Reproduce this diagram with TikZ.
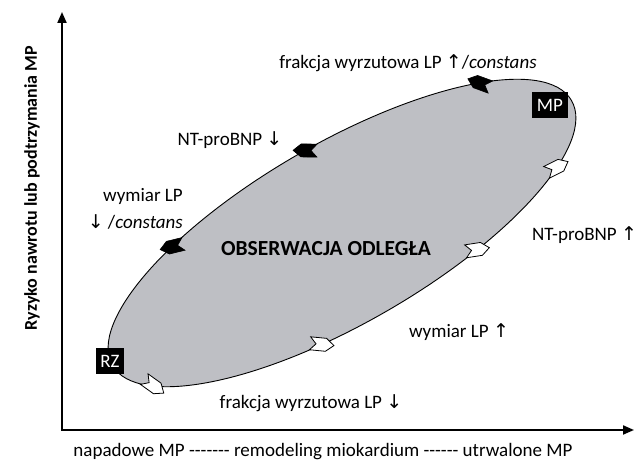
\documentclass[tikz,border=0pt]{standalone}
\usepackage{fontspec}
\setmainfont{Carlito}
\newfontfamily\arrowfont{DejaVu Sans}
\usetikzlibrary{arrows.meta}
\definecolor{ellgray}{RGB}{190,191,196}
\newcommand{\upar}{{\arrowfont\char"2191}}
\newcommand{\dnar}{{\arrowfont\char"2193}}
\begin{document}
\begin{tikzpicture}[x=1pt,y=1pt,
  lbl/.style={inner sep=0pt, font=\fontsize{19}{22}\selectfont},
  tagbox/.style={fill=black, text=white, inner sep=0pt, minimum height=26pt, font=\fontsize{19}{22}\selectfont},
  axisline/.style={line width=2pt},
  flowarrow/.pic={\path[pic actions] (12,0) -- (4,6.5) -- (-12,6.5) -- (-6,0) -- (-12,-6.5) -- (4,-6.5) -- cycle;}
]
\useasboundingbox (0,0) rectangle (638,468);
% axes
\coordinate (O) at (62,38);
\coordinate (ytip) at (62,456);
\coordinate (xtip) at (634,38);
\draw[axisline, {Triangle[length=11pt,width=9pt]}-{Triangle[length=11pt,width=9pt]}] (ytip) -- (O) -- (xtip);
% ellipse and flow arrows
\begin{scope}[shift={(342,235)}, rotate=30]
  \draw[fill=ellgray, line width=0.9pt] (0,0) ellipse [x radius=265pt, y radius=90pt];
  \foreach \t in {43,88,125.6}{
    \pgfmathsetmacro{\ang}{atan2(90*cos(\t), -265*sin(\t))}
    \pic[rotate=\ang, fill=black, draw=black, line width=0.6pt] at ({265*cos(\t)},{90*sin(\t)}) {flowarrow};
  }
  \foreach \t in {205.4,254,294.3,325.9}{
    \pgfmathsetmacro{\ang}{atan2(90*cos(\t), -265*sin(\t))}
    \pic[rotate=\ang, fill=white, draw=black, line width=0.8pt] at ({265*cos(\t)},{90*sin(\t)}) {flowarrow};
  }
\end{scope}
% tags
\node[tagbox, minimum width=36pt] (mp) at (550,363) {MP};
\node[tagbox, minimum width=28pt] (rz) at (110,107) {RZ};
% labels
\node[lbl] (top) at (408,405) {frakcja wyrzutowa LP \upar/\textit{constans}};
\node[lbl] (ntdown) at (230,328) {NT-proBNP \dnar};
\node[lbl, anchor=east] (wym1) at (183,271) {wymiar LP};
\node[lbl, anchor=east] (wym2) at (183,246) {\dnar\ /\textit{constans}};
\node[inner sep=0pt, font=\fontsize{21.5}{25}\selectfont\bfseries] (obs) at (326,219) {OBSERWACJA ODLEGŁA};
\node[lbl, anchor=west] (ntup) at (532,233) {NT-proBNP \upar};
\node[lbl] (wymup) at (459,136) {wymiar LP \upar};
\node[lbl] (frdn) at (311,65) {frakcja wyrzutowa LP \dnar};
\node[lbl] (xlab) at (323,16) {napadowe MP -{}-{}-{}-{}-{}-{}- remodeling miokardium -{}-{}-{}-{}-{}- utrwalone MP};
\node[inner sep=0pt, font=\fontsize{18}{21}\selectfont\bfseries, rotate=90] (ylab) at (32,280) {Ryzyko nawrotu lub podtrzymania MP};
\end{tikzpicture}
\end{document}
